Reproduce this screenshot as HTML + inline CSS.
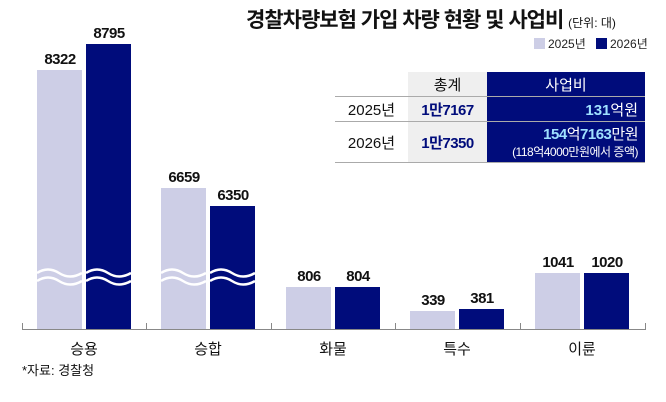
<!DOCTYPE html>
<html><head><meta charset="utf-8"><style>
body{margin:0;width:666px;height:402px;background:#fff;overflow:hidden;font-family:"Liberation Sans","Noto Sans CJK KR",sans-serif;position:relative}
.a{position:absolute}
.bar{position:absolute;bottom:73px;width:45px}
.l{background:#cdcee6}.n{background:#000c7b}
.v{position:absolute;width:60px;text-align:center;font-weight:bold;font-size:15px;letter-spacing:-0.5px;color:#111}
.cat{position:absolute;top:338px;width:100px;text-align:center;font-size:15px;color:#111}
</style></head><body>
<div class="a" style="left:246px;top:4px;font-size:21px;font-weight:bold;letter-spacing:-1px;color:#111">경찰차량보험 가입 차량 현황 및 사업비 <span style="font-size:12px;font-weight:normal;letter-spacing:0">(단위: 대)</span></div>
<div class="a" style="left:534px;top:38px;width:11px;height:11px;background:#cdcee6"></div>
<div class="a" style="left:548px;top:35px;font-size:12px;color:#222">2025년</div>
<div class="a" style="left:596px;top:38px;width:11px;height:11px;background:#000c7b"></div>
<div class="a" style="left:610px;top:35px;font-size:12px;color:#222">2026년</div>

<div class="bar l" style="left:37px;height:259px"></div>
<div class="bar n" style="left:86px;height:285px"></div>
<div class="bar l" style="left:161px;height:141px"></div>
<div class="bar n" style="left:210px;height:123px"></div>
<div class="bar l" style="left:286px;height:42px"></div>
<div class="bar n" style="left:335px;height:42px"></div>
<div class="bar l" style="left:410px;height:18px"></div>
<div class="bar n" style="left:459px;height:20px"></div>
<div class="bar l" style="left:535px;height:56px"></div>
<div class="bar n" style="left:584px;height:56px"></div>

<svg class="a" style="left:0;top:0" width="666" height="402">
<g fill="none" stroke="#fff" stroke-width="2.5">
<path d="M37 273 q11 -7 22 0 t23 0 M37 281 q11 -7 22 0 t23 0 M86 273 q11 -7 22 0 t23 0 M86 281 q11 -7 22 0 t23 0"/>
<path d="M161 273 q11 -7 22 0 t23 0 M161 281 q11 -7 22 0 t23 0 M210 273 q11 -7 22 0 t23 0 M210 281 q11 -7 22 0 t23 0"/>
</g>
<g stroke="#888" stroke-width="1">
<line x1="22" y1="329.5" x2="646" y2="329.5"/>
<line x1="22.5" y1="323" x2="22.5" y2="330"/><line x1="146.5" y1="323" x2="146.5" y2="330"/><line x1="271.5" y1="323" x2="271.5" y2="330"/><line x1="395.5" y1="323" x2="395.5" y2="330"/><line x1="520.5" y1="323" x2="520.5" y2="330"/><line x1="645.5" y1="323" x2="645.5" y2="330"/>
</g></svg>

<div class="v" style="left:30px;top:51px">8322</div>
<div class="v" style="left:79px;top:25px">8795</div>
<div class="v" style="left:154px;top:169px">6659</div>
<div class="v" style="left:203px;top:187px">6350</div>
<div class="v" style="left:279px;top:268px">806</div>
<div class="v" style="left:328px;top:268px">804</div>
<div class="v" style="left:403px;top:292px">339</div>
<div class="v" style="left:452px;top:290px">381</div>
<div class="v" style="left:528px;top:254px">1041</div>
<div class="v" style="left:577px;top:254px">1020</div>

<div class="cat" style="left:34px">승용</div>
<div class="cat" style="left:158px">승합</div>
<div class="cat" style="left:283px">화물</div>
<div class="cat" style="left:407px">특수</div>
<div class="cat" style="left:532px">이륜</div>
<div class="a" style="left:22px;top:360px;font-size:13px;color:#111">*자료: 경찰청</div>

<div class="a" style="left:408px;top:72px;width:79px;height:90px;background:#efefef"></div>
<div class="a" style="left:487px;top:72px;width:158px;height:90px;background:#000c7b"></div>
<div class="a" style="left:335px;top:96px;width:310px;height:1px;background:#aaa"></div>
<div class="a" style="left:335px;top:121px;width:310px;height:1px;background:#aaa"></div>
<div class="a" style="left:335px;top:162px;width:310px;height:1px;background:#aaa"></div>
<div class="a" style="left:408px;top:74px;width:79px;text-align:center;font-size:15px;color:#111">총계</div>
<div class="a" style="left:487px;top:74px;width:158px;text-align:center;font-size:15px;color:#fff">사업비</div>
<div class="a" style="left:335px;top:99px;width:73px;text-align:center;font-size:15px;color:#111">2025년</div>
<div class="a" style="left:408px;top:99px;width:79px;text-align:center;font-size:15px;font-weight:bold;color:#000c7b;letter-spacing:-0.5px">1만7167</div>
<div class="a" style="left:487px;top:99px;width:151px;text-align:right;font-size:15px;font-weight:bold;color:#9fe0ff">131<span style="color:#fff;font-weight:normal">억원</span></div>
<div class="a" style="left:335px;top:132px;width:73px;text-align:center;font-size:15px;color:#111">2026년</div>
<div class="a" style="left:408px;top:132px;width:79px;text-align:center;font-size:15px;font-weight:bold;color:#000c7b;letter-spacing:-0.5px">1만7350</div>
<div class="a" style="left:487px;top:123px;width:151px;text-align:right;font-size:15px;font-weight:bold;color:#9fe0ff;letter-spacing:-0.5px">154<span style="color:#fff;font-weight:normal">억</span>7163<span style="color:#fff;font-weight:normal">만원</span></div>
<div class="a" style="left:487px;top:143px;width:151px;text-align:right;font-size:12px;color:#fff;letter-spacing:-0.5px">(118억4000만원에서 증액)</div>
</body></html>
